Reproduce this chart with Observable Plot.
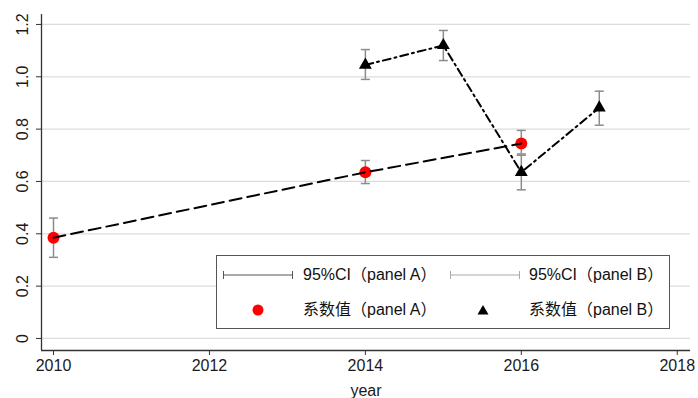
<!DOCTYPE html>
<html>
<head>
<meta charset="utf-8">
<script src="https://cdn.jsdelivr.net/npm/d3@7"></script>
<script src="https://cdn.jsdelivr.net/npm/@observablehq/plot@0.6"></script>
<style>
  html, body { margin: 0; padding: 0; background: #fff; }
  #wrap { position: relative; width: 698px; height: 398px; overflow: hidden; font-family: "Liberation Sans", Arial, "Noto Sans CJK SC", sans-serif; }
  #legend { position: absolute; left: 216px; top: 255px; width: 452px; height: 72px; border: 1px solid #555; background: #fff; font-size: 16px; color: #111; }
  #legend .item { position: absolute; white-space: nowrap; line-height: 18px; }
  #legend svg { position: absolute; overflow: visible; }
</style>
</head>
<body>
<div id="wrap"></div>
<script>
// Panel A
const yearsA = [2010, 2014, 2016];
const coefA  = [0.385, 0.635, 0.745];
const loA    = [0.310, 0.592, 0.705];
const hiA    = [0.460, 0.680, 0.795];
// Panel B
const yearsB = [2014, 2015, 2016, 2017];
const coefB  = [1.045, 1.120, 0.635, 0.882];
const loB    = [0.990, 1.062, 0.568, 0.815];
const hiB    = [1.104, 1.177, 0.700, 0.945];
// Axes
const xTicks = [2010, 2012, 2014, 2016, 2018];
const yTicks = [0, 0.2, 0.4, 0.6, 0.8, 1.0, 1.2];
const xDomain = [2009.846, 2018.17];
const yDomain = [-0.046, 1.238];
const legendLabels = ["95%CI（panel A）", "95%CI（panel B）", "系数值（panel A）", "系数值（panel B）"];

const A = yearsA.map((x, i) => ({x, y: coefA[i], lo: loA[i], hi: hiA[i]}));
const B = yearsB.map((x, i) => ({x, y: coefB[i], lo: loB[i], hi: hiB[i]}));

const cap = {draw(ctx, size) { const w = Math.sqrt(size / Math.PI); ctx.moveTo(-w, 0); ctx.lineTo(w, 0); }};
const ciColor = "#8c8c8c";
const font = "Liberation Sans, Arial, sans-serif";

const chart = Plot.plot({
  width: 698, height: 398,
  marginLeft: 41, marginRight: 8, marginTop: 14, marginBottom: 48,
  x: {domain: xDomain},
  y: {domain: yDomain},
  style: {fontFamily: font, fontSize: "16px", color: "#222", background: "#fff"},
  marks: [
    Plot.gridY(yTicks, {stroke: "#dcdcdc", strokeOpacity: 1, strokeWidth: 1.3}),
    Plot.axisY(yTicks, {tickFormat: () => "", tickSize: 5, label: null, stroke: "#333"}),
    Plot.axisX(xTicks, {tickFormat: () => "", tickSize: 5, label: null, stroke: "#333"}),
    Plot.text(yTicks, {y: d => d, text: d => d === 0 ? "0" : d.toFixed(1), frameAnchor: "left", dx: -19, rotate: -90, textAnchor: "middle", fontSize: 16, fill: "#1a1a1a"}),
    Plot.text(xTicks, {x: d => d, text: d => String(d), frameAnchor: "bottom", dy: 20, fontSize: 16, fill: "#1a1a1a"}),
    Plot.ruleX([xDomain[0]], {stroke: "#333", strokeWidth: 1.3}),
    Plot.ruleY([yDomain[0]], {stroke: "#333", strokeWidth: 1.3}),
    Plot.text(["year"], {frameAnchor: "bottom", dy: 45, fontSize: 16, fill: "#1a1a1a"}),
    // CI B
    Plot.ruleX(B, {x: "x", y1: "lo", y2: "hi", stroke: ciColor, strokeWidth: 1.5}),
    Plot.dot(B, {x: "x", y: "lo", symbol: cap, r: 4.5, stroke: ciColor, strokeWidth: 1.5}),
    Plot.dot(B, {x: "x", y: "hi", symbol: cap, r: 4.5, stroke: ciColor, strokeWidth: 1.5}),
    // CI A
    Plot.ruleX(A, {x: "x", y1: "lo", y2: "hi", stroke: ciColor, strokeWidth: 1.5}),
    Plot.dot(A, {x: "x", y: "lo", symbol: cap, r: 4.5, stroke: ciColor, strokeWidth: 1.5}),
    Plot.dot(A, {x: "x", y: "hi", symbol: cap, r: 4.5, stroke: ciColor, strokeWidth: 1.5}),
    // points
    Plot.dot(A, {x: "x", y: "y", r: 6, fill: "#f00", stroke: "none"}),
    Plot.dot(B, {x: "x", y: "y", symbol: "triangle", r: 4.8, fill: "#000", stroke: "none"}),
    // lines
    Plot.line(A, {x: "x", y: "y", stroke: "#000", strokeWidth: 2, strokeDasharray: "12,6"}),
    Plot.line(B, {x: "x", y: "y", stroke: "#000", strokeWidth: 2, strokeDasharray: "8,4,2,4"})
  ]
});

const wrap = document.getElementById("wrap");
wrap.appendChild(chart);

const lg = document.createElement("div");
lg.id = "legend";
lg.innerHTML = `
  <svg style="left:6px;top:19px" width="70" height="8"><line x1="0" y1="0" x2="70" y2="0" stroke="#555" stroke-width="1.2"/><line x1="0.5" y1="-4" x2="0.5" y2="4" stroke="#555"/><line x1="69.5" y1="-4" x2="69.5" y2="4" stroke="#555"/></svg>
  <div class="item" style="left:86px;top:10px">${legendLabels[0]}</div>
  <svg style="left:233px;top:19px" width="70" height="8"><line x1="0" y1="0" x2="70" y2="0" stroke="#aaa" stroke-width="1.2"/><line x1="0.5" y1="-4" x2="0.5" y2="4" stroke="#aaa"/><line x1="69.5" y1="-4" x2="69.5" y2="4" stroke="#aaa"/></svg>
  <div class="item" style="left:312px;top:10px">${legendLabels[1]}</div>
  <svg style="left:41px;top:54px" width="1" height="1"><circle cx="0" cy="0" r="5.5" fill="#f00"/></svg>
  <div class="item" style="left:86px;top:45px">${legendLabels[2]}</div>
  <svg style="left:266px;top:54px" width="1" height="1"><path d="M0,-5L5.5,4.5L-5.5,4.5Z" fill="#000"/></svg>
  <div class="item" style="left:312px;top:45px">${legendLabels[3]}</div>
`;
wrap.appendChild(lg);
</script>
</body>
</html>
